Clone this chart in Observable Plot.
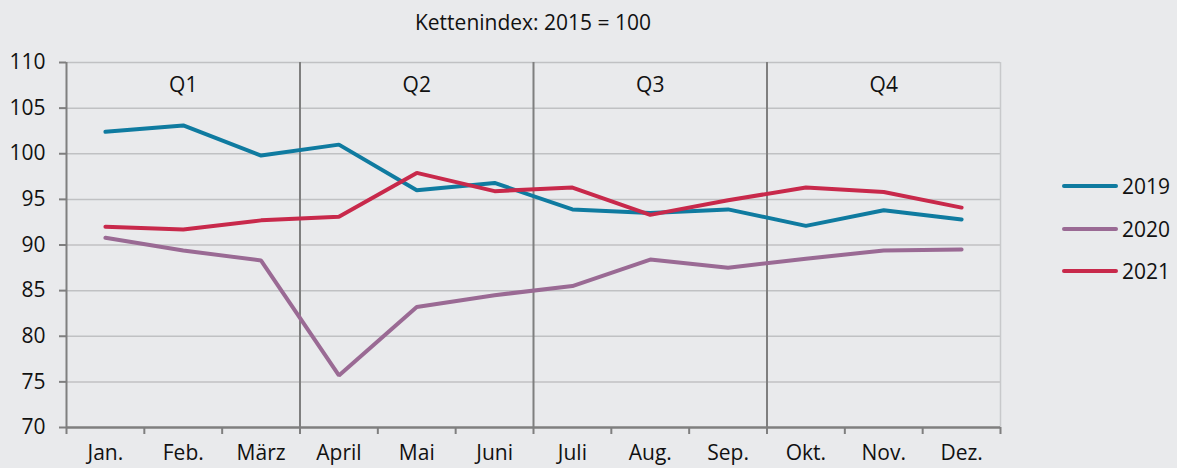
<!DOCTYPE html>
<html>
<head>
<meta charset="utf-8">
<script src="https://cdn.jsdelivr.net/npm/d3@7"></script>
<script src="https://cdn.jsdelivr.net/npm/@observablehq/plot@0.6"></script>
<style>
  html, body { margin: 0; padding: 0; background: #e9eaec; }
  body { width: 1177px; height: 468px; overflow: hidden; position: relative; font-family: "Open Sans", sans-serif; color: #111; }
  #title { height: 44px; box-sizing: border-box; padding-left: 66px; width: 1000px; text-align: center; font-size: 21px; line-height: 44px; }
  #legend { position: absolute; left: 1062px; top: 165px; font-size: 21px; }
  .item { display: flex; align-items: center; height: 42.5px; }
  .sw { width: 56px; height: 4px; border-radius: 2px; margin-right: 4px; }
</style>
</head>
<body>
<div id="title">Kettenindex: 2015 = 100</div>
<div id="chart"></div>
<div id="legend"></div>
<script>
const months = ["Jan.", "Feb.", "März", "April", "Mai", "Juni", "Juli", "Aug.", "Sep.", "Okt.", "Nov.", "Dez."];
const quarters = ["Q1", "Q2", "Q3", "Q4"];
const years = ["2019", "2020", "2021"];
const colors = ["#0f7ba0", "#9a6a94", "#c8294b"];
const v2019 = [102.4, 103.1, 99.8, 101.0, 96.0, 96.8, 93.9, 93.5, 93.9, 92.1, 93.8, 92.8];
const v2020 = [90.8, 89.4, 88.3, 75.7, 83.2, 84.5, 85.5, 88.4, 87.5, 88.5, 89.4, 89.5];
const v2021 = [92.0, 91.7, 92.7, 93.1, 97.9, 95.9, 96.3, 93.3, 94.9, 96.3, 95.8, 94.1];
const yTicks = [70, 75, 80, 85, 90, 95, 100, 105, 110];

const series = [v2019, v2020, v2021];
const data = [];
series.forEach((vals, s) => vals.forEach((v, i) => data.push({year: years[s], i, v})));

const idx = months.map((_, i) => i);
const bounds = d3.range(13).map(i => i - 0.5);
const qLines = [2.5, 5.5, 8.5];
const qPos = quarters.map((q, k) => ({q, x: k * 3 + 1}));

const plot = Plot.plot({
  width: 1177,
  height: 424,
  marginLeft: 66,
  marginRight: 177,
  marginTop: 18,
  marginBottom: 41,
  style: { background: "transparent", fontFamily: "Open Sans, sans-serif", fontSize: "21px", color: "#111", overflow: "visible" },
  x: { type: "linear", domain: [-0.5, 11.5], axis: null },
  y: { domain: [70, 110], axis: null },
  color: { domain: years, range: colors },
  marks: [
    Plot.ruleY(yTicks.filter(t => t > 70), { stroke: "#c0c1c3", strokeWidth: 1.5 }),
    Plot.ruleX([11.5], { stroke: "#c8c9cb", strokeWidth: 1.5 }),
    Plot.ruleX(qLines, { stroke: "#7f7f7f", strokeWidth: 2 }),
    Plot.axisY({ ticks: yTicks, tickSize: 7, tickPadding: 14, label: null, stroke: "#7f7f7f", strokeWidth: 2, fontSize: 21, tickFormat: d => d }),
    Plot.axisX({ ticks: bounds, tickSize: 7, label: null, tickFormat: () => "", stroke: "#7f7f7f", strokeWidth: 2 }),
    Plot.axisX({ ticks: idx, tickSize: 0, tickPadding: 18, label: null, fontSize: 21, tickFormat: i => months[i] }),
    Plot.ruleX([-0.5], { stroke: "#7f7f7f", strokeWidth: 2 }),
    Plot.ruleY([70], { stroke: "#7f7f7f", strokeWidth: 2.5 }),
    Plot.text(qPos, { x: "x", y: 107.5, text: "q", fontSize: 21, fill: "#111" }),
    Plot.line(data, { x: "i", y: "v", z: "year", stroke: "year", strokeWidth: 4, strokeLinecap: "round", strokeLinejoin: "miter" })
  ]
});
document.getElementById("chart").appendChild(plot);

const lg = document.getElementById("legend");
years.forEach((y, k) => {
  const it = document.createElement("div");
  it.className = "item";
  it.innerHTML = `<div class="sw" style="background:${colors[k]}"></div><span>${y}</span>`;
  lg.appendChild(it);
});
</script>
</body>
</html>
